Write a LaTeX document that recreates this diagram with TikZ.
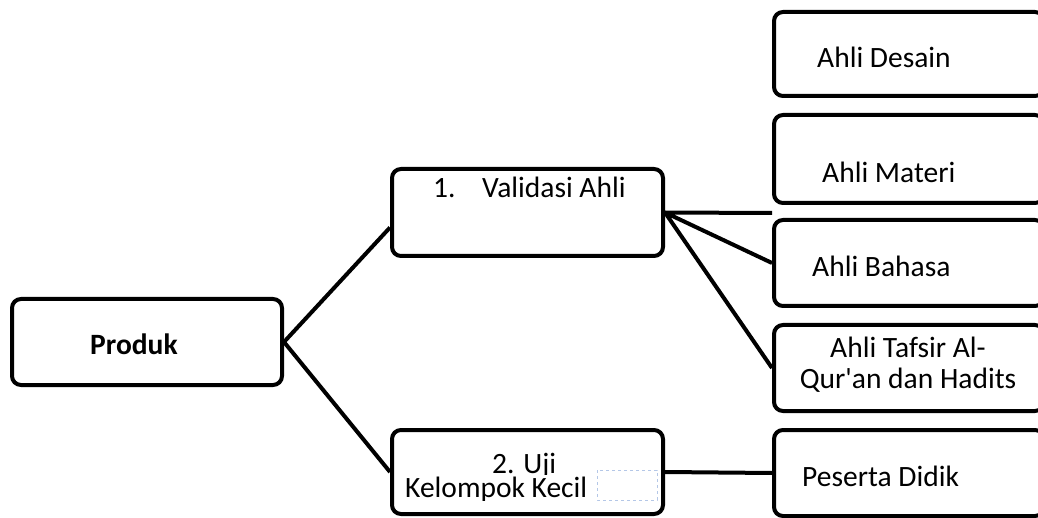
\documentclass[tikz,border=0pt]{standalone}
\usepackage{fontspec}
\setmainfont{Carlito}
\usetikzlibrary{positioning}
\definecolor{pilih}{RGB}{180,199,231}

\begin{document}
\begin{tikzpicture}[x=1pt,y=-1pt,
		box/.style={draw, line width=4pt, rounded corners=9pt, minimum width=270pt},
		txt/.style={inner sep=0pt, anchor=base west, font=\fontsize{29.5}{31}\selectfont}]
	\useasboundingbox (0,0) rectangle (1038,518);

	\node[box, minimum height=86pt] (produk) at (147,342) {};
	\node[box, minimum width=271pt, minimum height=87pt] (validasi) at (527.5,212.5) {};
	\node[box, minimum width=271pt, minimum height=84pt] (uji) at (527.5,472) {};

	\node[box, minimum height=84pt] (desain) at (909,54) {};
	\node[box, minimum height=88pt] (materi) [below=15pt of desain] {};
	\node[box, minimum height=86pt] (bahasa) [below=13pt of materi] {};
	\node[box, minimum height=86pt] (tafsir) [below=15pt of bahasa] {};
	\node[box, minimum height=86pt] (peserta) [below=15pt of tafsir] {};
	\coordinate (ujung) at (772,213);

	% teks
	\node[txt, font=\fontsize{29.5}{31}\selectfont\bfseries] (produkteks) at (90,355) {Produk};
	\node[txt] (validasiteks) at (433,198) {\makebox[49pt][l]{1.}Validasi Ahli};
	\begin{scope}
		\clip (392,430) rectangle (663,474);
		\node[txt] (ujiteks) at (492,473) {2. Uji};
	\end{scope}
	\begin{scope}
		\clip (392,475) rectangle (663,500);
		\node[txt] (kelompokteks) at (405,497) {Kelompok Kecil};
	\end{scope}
	\draw[pilih, dashed, line width=0.6pt] (597,470) rectangle (657,500);
	\node[txt] (desainteks) at (817,68) {Ahli Desain};
	\node[txt] (materiteks) at (822,183) {Ahli Materi};
	\node[txt] (bahasateks) at (812,277) {Ahli Bahasa};
	\node[txt, anchor=base, align=center] (tafsirteks) at (908,388) {Ahli Tafsir Al-\\Qur\textquotesingle an dan Hadits};
	\node[txt] (pesertateks) at (802,486) {Peserta Didik};

	\draw[line width=4pt] (produk.east) -- ([yshift=-15pt]validasi.west)
		(produk.east) -- (uji.west)
		(validasi.east) -- (ujung)
		(validasi.east) -- (bahasa.west)
		(validasi.east) -- (tafsir.west)
		(uji.east) -- (peserta.west);
\end{tikzpicture}
\end{document}
